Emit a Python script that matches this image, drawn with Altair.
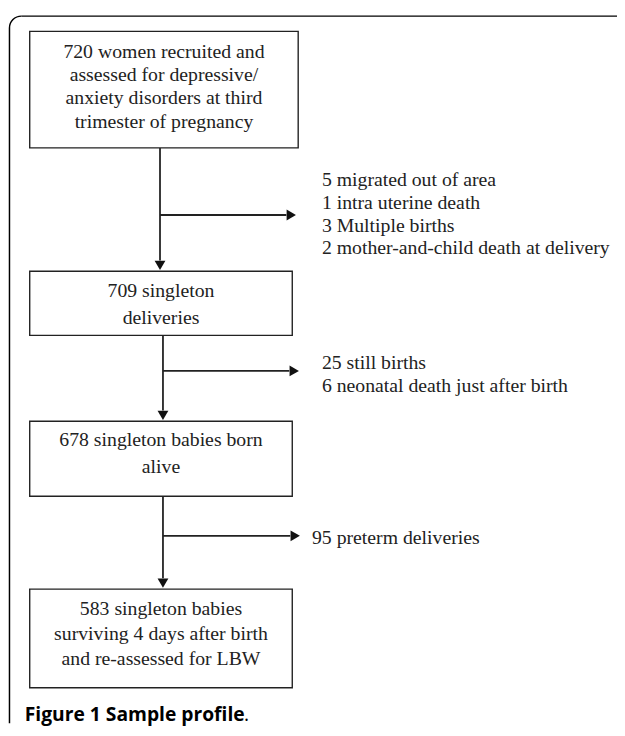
import altair as alt
import pandas as pd

# ---- content ----
box_texts = [
    ["720 women recruited and", "assessed for depressive/", "anxiety disorders at third", "trimester of pregnancy"],
    ["709 singleton", "deliveries"],
    ["678 singleton babies born", "alive"],
    ["583 singleton babies", "surviving 4 days after birth", "and re-assessed for LBW"],
]
side_texts = [
    ["5 migrated out of area", "1 intra uterine death", "3 Multiple births", "2 mother-and-child death at delivery"],
    ["25 still births", "6 neonatal death just after birth"],
    ["95 preterm deliveries"],
]
caption = "Figure 1 Sample profile"

# ---- layout (pixel coordinates of the page) ----
W, H = 617, 720
X0, Y0 = 8, 8
box_x = [(30, 302), (30, 296), (30, 296), (30, 296)]
box_y = [(27, 145), (270, 335), (422, 498), (592, 692)]
box_first = [48, 290, 441, 612]
box_gap = [23.5, 27, 27, 25.5]
stem_x = [162, 165, 165]
branch_y = [213, 371, 538]
branch_tip = [301, 304, 305]
side_x = [326, 326, 316]
side_first = [178, 363, 540]
side_gap = 23

boxes = pd.DataFrame({
    "x": [b[0] for b in box_x], "x2": [b[1] for b in box_x],
    "y": [b[0] for b in box_y], "y2": [b[1] for b in box_y],
})

txt_rows = []
for i, lines in enumerate(box_texts):
    cx = (box_x[i][0] + box_x[i][1]) / 2
    for j, t in enumerate(lines):
        txt_rows.append({"x": cx, "y": box_first[i] + j * box_gap[i], "t": t})
box_txt = pd.DataFrame(txt_rows)

side_rows = []
for i, lines in enumerate(side_texts):
    for j, t in enumerate(lines):
        side_rows.append({"x": side_x[i], "y": side_first[i] + j * side_gap, "t": t})
side_txt = pd.DataFrame(side_rows)

AH = 11  # arrow head length
rules = []
for i in range(3):
    rules.append({"x": stem_x[i], "x2": stem_x[i], "y": box_y[i][1], "y2": box_y[i + 1][0] - AH})
    rules.append({"x": stem_x[i], "x2": branch_tip[i] - AH, "y": branch_y[i], "y2": branch_y[i]})
rules = pd.DataFrame(rules)

down = pd.DataFrame({"x": stem_x, "y": [box_y[i + 1][0] - 6 for i in range(3)]})
right = pd.DataFrame({"x": [t - 6 for t in branch_tip], "y": branch_y})

xs = alt.Scale(domain=[X0, X0 + W], range=[0, W])
ys = alt.Scale(domain=[Y0, Y0 + H], range=[0, H])
X = lambda f="x": alt.X(f"{f}:Q", scale=xs, axis=None)
Y = lambda f="y": alt.Y(f"{f}:Q", scale=ys, axis=None)

# outer frame: top and left edges with a rounded top-left corner
FL, FT, R = 9.5, 11.5, 12
frame_rules = pd.DataFrame({
    "x": [FL + R, FL], "x2": [700, FL],
    "y": [FT, FT + R], "y2": [FT, 800],
})
frame = alt.Chart(frame_rules).mark_rule(color="black", strokeWidth=1.5, clip=True).encode(
    x=X(), x2="x2:Q", y=Y(), y2="y2:Q")
corner = alt.Chart(pd.DataFrame({"x": [FL + R], "y": [FT + R]})).mark_arc(
    color="black", radius=R + 0.75, radius2=R - 0.75, theta=4.7124, theta2=6.2832
).encode(x=X(), y=Y())

box_layer = alt.Chart(boxes).mark_rect(
    fill="white", stroke="#222", strokeWidth=1.4
).encode(x=X(), x2="x2:Q", y=Y(), y2="y2:Q")

rule_layer = alt.Chart(rules).mark_rule(color="#222", strokeWidth=1.8).encode(
    x=X(), x2="x2:Q", y=Y(), y2="y2:Q")

down_layer = alt.Chart(down).mark_point(
    shape="triangle-down", filled=True, color="#111", size=120, opacity=1
).encode(x=X(), y=Y())
right_layer = alt.Chart(right).mark_point(
    shape="triangle-right", filled=True, color="#111", size=120, opacity=1
).encode(x=X(), y=Y())

font = "Liberation Serif"
box_text_layer = alt.Chart(box_txt).mark_text(
    font=font, fontSize=20, color="#222", align="center", baseline="middle"
).encode(x=X(), y=Y(), text="t:N")
side_text_layer = alt.Chart(side_txt).mark_text(
    font=font, fontSize=20, color="#222", align="left", baseline="middle"
).encode(x=X(), y=Y(), text="t:N")

cap_layer = alt.Chart(pd.DataFrame({"x": [25], "y": [720], "t": [caption]})).mark_text(
    font="Open Sans", fontWeight="bold", fontSize=19.5, color="black", align="left", baseline="middle"
).encode(x=X(), y=Y(), text="t:N")
dot_layer = alt.Chart(pd.DataFrame({"x": [247], "y": [720], "t": ["."]})).mark_text(
    font="Open Sans", fontSize=19.5, color="black", align="left", baseline="middle"
).encode(x=X(), y=Y(), text="t:N")

chart = alt.layer(
    frame, corner, box_layer, rule_layer, down_layer, right_layer,
    box_text_layer, side_text_layer, cap_layer, dot_layer
).properties(width=W, height=H, padding=0, autosize=alt.AutoSizeParams(type="none")
).configure_view(stroke=None)

chart.save("out.html", embed_options={"renderer": "svg", "actions": False})
